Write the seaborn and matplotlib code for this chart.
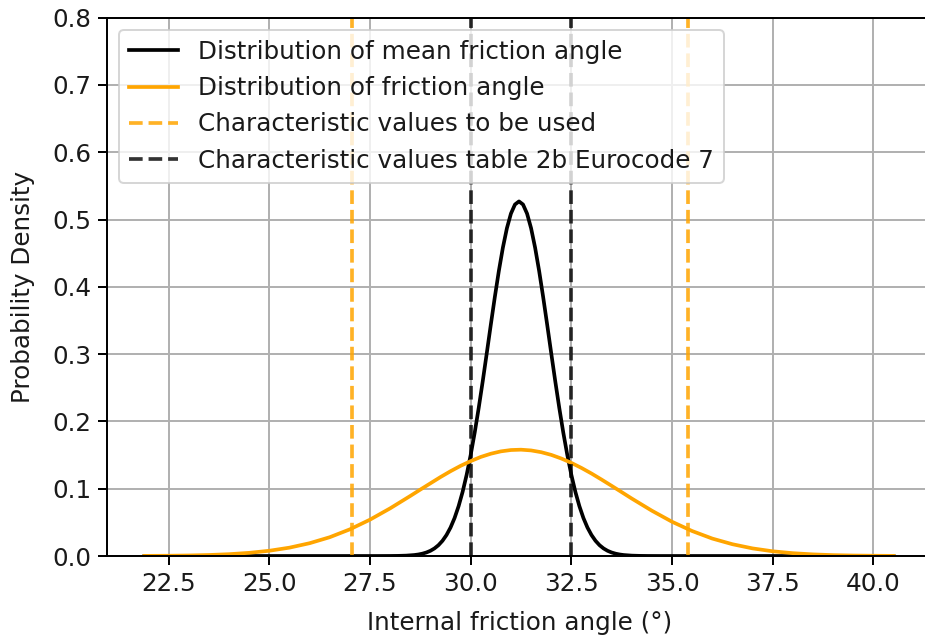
import matplotlib
matplotlib.use("Agg")
import matplotlib.pyplot as plt
import seaborn as sns
import pandas as pd

# ---- data ----
x_friction = [21.9, 22.5, 23.0, 23.5, 24.0, 24.5, 25.0, 25.5, 26.0, 26.5, 27.0, 27.5,
              28.0, 28.5, 28.75, 29.0, 29.25, 29.5, 29.75, 30.0, 30.25, 30.5, 30.75,
              31.0, 31.25, 31.5, 31.75, 32.0, 32.25, 32.5, 32.75, 33.0, 33.25,
              33.5, 33.75, 34.0, 34.5, 35.0, 35.5, 36.0, 36.5, 37.0, 37.5, 38.0, 38.5,
              39.0, 39.5, 40.0, 40.5]
pdf_friction = [0.0002, 0.0004, 0.0008, 0.0015, 0.0027, 0.0047, 0.0078, 0.0124,
                0.0190, 0.0279, 0.0396, 0.0540, 0.0708, 0.0892, 0.0987, 0.1080,
                0.1173, 0.1260, 0.1340, 0.1410, 0.1472, 0.1520, 0.1555, 0.1575,
                0.1580, 0.1569, 0.1543, 0.1503, 0.1449, 0.1384, 0.1309, 0.1226,
                0.1136, 0.1043, 0.0949, 0.0854, 0.0673, 0.0509, 0.0371, 0.0259,
                0.0175, 0.0113, 0.0070, 0.0042, 0.0024, 0.0013, 0.0007, 0.0004,
                0.0002]

x_mean = [21.9, 27.7, 28.0, 28.2, 28.4,
          28.6, 28.7, 28.8, 28.9, 29.0, 29.1, 29.2, 29.3, 29.4, 29.5, 29.6, 29.7,
          29.8, 29.9, 30.0, 30.1, 30.2, 30.3, 30.4, 30.5, 30.6, 30.7, 30.8, 30.9,
          31.0, 31.1, 31.2, 31.3, 31.4, 31.5, 31.6, 31.7, 31.8, 31.9, 32.0, 32.1,
          32.2, 32.3, 32.4, 32.5, 32.6, 32.7, 32.8, 32.9, 33.0, 33.1, 33.2, 33.3,
          33.4, 33.5, 33.6, 33.7, 33.8,
          34.0, 34.2, 34.4, 34.7, 40.5]
pdf_mean = [0.0, 0.00001, 0.00007, 0.0002, 0.00056,
            0.00144, 0.00225, 0.00346, 0.00521, 0.00772, 0.01123, 0.01606, 0.0226,
            0.0312, 0.0423, 0.0564, 0.0740, 0.0953, 0.1206, 0.1500, 0.1833, 0.2202,
            0.2599, 0.3015, 0.3437, 0.3849, 0.4237, 0.4583, 0.4872, 0.5089, 0.5224,
            0.5270, 0.5224, 0.5089, 0.4872, 0.4583, 0.4237, 0.3849, 0.3437, 0.3015,
            0.2599, 0.2202, 0.1833, 0.1500, 0.1206, 0.0953, 0.0740, 0.0564, 0.0423,
            0.0312, 0.0226, 0.01606, 0.01123, 0.00772, 0.00521, 0.00346, 0.00225,
            0.00144,
            0.00056, 0.0002, 0.00007, 0.00001, 0.0]

char_used = [27.05, 35.4]
char_ec7 = [30.0, 32.5]

labels = ["Distribution of mean friction angle",
          "Distribution of friction angle",
          "Characteristic values to be used",
          "Characteristic values table 2b Eurocode 7"]

xticks = [22.5, 25.0, 27.5, 30.0, 32.5, 35.0, 37.5, 40.0]

df_mean = pd.DataFrame({"x": x_mean, "y": pdf_mean})
df_fric = pd.DataFrame({"x": x_friction, "y": pdf_friction})

S = 1.23
plt.rcParams.update({
    "font.size": 10 * S,
    "lines.linewidth": 1.5 * S,
    "axes.linewidth": 0.8 * S,
    "grid.linewidth": 0.8 * S,
    "xtick.major.size": 3.5 * S,
    "ytick.major.size": 3.5 * S,
    "xtick.major.width": 0.8 * S,
    "ytick.major.width": 0.8 * S,
    "text.color": "#1a1a1a",
    "axes.labelcolor": "#1a1a1a",
    "xtick.labelcolor": "#1a1a1a",
    "ytick.labelcolor": "#1a1a1a",
})

DPI = 144
fig = plt.figure(figsize=(925 / DPI, 636 / DPI), dpi=DPI)
ax = fig.add_axes([107 / 925, 80 / 636, (933 - 107) / 925, (556 - 17.7) / 636])

sns.lineplot(data=df_mean, x="x", y="y", ax=ax, color="black", label=labels[0],
             sort=False, estimator=None)
sns.lineplot(data=df_fric, x="x", y="y", ax=ax, color="orange", label=labels[1],
             sort=False, estimator=None)

h_used = None
for v in char_used:
    h_used = ax.axvline(v, color="orange", linestyle="--", alpha=0.85)
h_ec7 = None
for v in char_ec7:
    h_ec7 = ax.axvline(v, color="black", linestyle="--", alpha=0.8)

handles = ax.get_lines()[:2] + [h_used, h_ec7]
ax.legend(handles, labels, loc="upper left")

ax.set_ylim(0, 0.8)
ax.set_xlim(20.97, 41.48)
ax.set_xticks(xticks)
ax.grid(True)
ax.set_xlabel("Internal friction angle (°)", labelpad=7.5)
ax.set_ylabel("Probability Density", labelpad=8.5)

fig.savefig("out.png", dpi=DPI)
